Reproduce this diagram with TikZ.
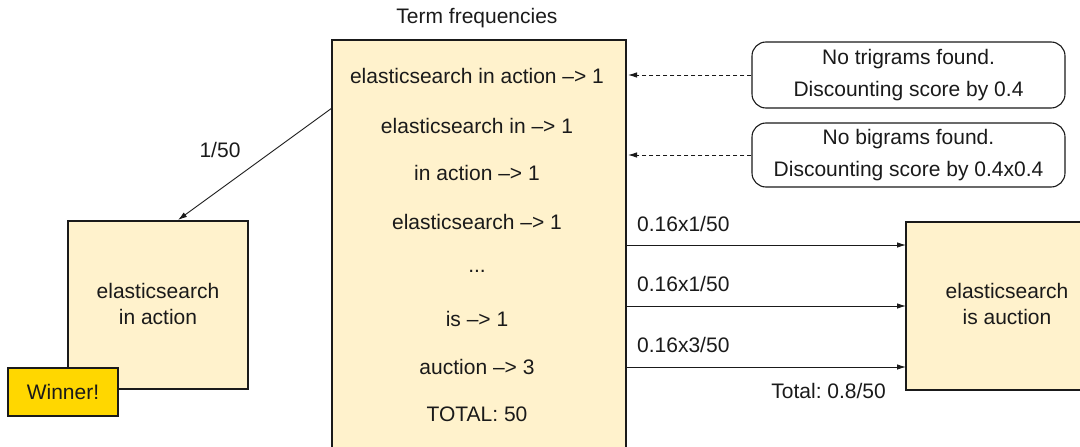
\documentclass[tikz,border=0pt]{standalone}
\usepackage{fontspec}
\setmainfont{Liberation Sans}
\usetikzlibrary{arrows.meta,calc}
\definecolor{cream}{HTML}{FFF2CC}
\definecolor{gold}{HTML}{FFD700}
\definecolor{ink}{HTML}{1A1A1A}
\frenchspacing
\tikzset{
  box/.style={draw=ink, line width=1.2pt, fill=cream},
  note/.style={draw=ink, line width=1.1pt, rounded corners=14pt, fill=white},
  txt/.style={font=\fontsize{21}{26}\selectfont, text=ink, align=center, inner sep=0pt},
  ntxt/.style={font=\fontsize{21}{32}\selectfont, text=ink, align=center, inner sep=0pt},
  arr/.style={-{Latex[length=9pt,width=5.5pt]}, line width=0.9pt, draw=ink},
  darr/.style={arr, dashed, dash pattern=on 4pt off 3pt}
}
\begin{document}
\begin{tikzpicture}[x=1pt,y=-1pt]
\useasboundingbox (0,0) rectangle (1080,447);
\clip (0,0) rectangle (1080,447);
% central box
\path[box] (332,40) rectangle (626,470);
\node[txt] (title) at (477,18) {Term frequencies};
\node[txt] (t1) at (477,76) {elasticsearch in action –> 1};
\node[txt] (t2) at (477,126) {elasticsearch in –> 1};
\node[txt] (t3) at (477,173) {in action –> 1};
\node[txt] (t4) at (477,222) {elasticsearch –> 1};
\node[txt] (t5) at (477,271) {...};
\node[txt] (t6) at (477,319) {is –> 1};
\node[txt] (t7) at (477,367) {auction –> 3};
\node[txt] (t8) at (477,414) {TOTAL: 50};
% left box
\node[box, minimum width=180pt, minimum height=168pt, inner sep=0pt] (lb) at (158,305) {};
\node[txt] (lbt) at (158,304) {elasticsearch\\in action};
\node[draw=ink, line width=1.2pt, fill=gold, minimum width=110pt, minimum height=48pt, inner sep=0pt, txt] (win) at (63,392) {Winner!};
% right box
\path[box] (906,222) rectangle (1100,390);
\node[txt] (rbt) at (1007,304) {elasticsearch\\is auction};
% notes
\node[note, minimum width=313pt, minimum height=66pt, inner sep=0pt] (n1) at (908.5,75) {};
\node[ntxt] at (n1) {No trigrams found.\\Discounting score by 0.4};
\node[note, minimum width=313pt, minimum height=64pt, inner sep=0pt] (n2) at (908.5,155) {};
\node[ntxt] at (n2) {No bigrams found.\\Discounting score by 0.4x0.4};
% dashed arrows
\coordinate (d1) at (628,75);
\coordinate (d2) at (628,155);
\draw[darr] (n1.west) -- (d1);
\draw[darr] (n2.west) -- (d2);
% solid arrows
\coordinate (a1s) at (626,245);
\coordinate (a1e) at (906,245);
\coordinate (a2s) at (626,306);
\coordinate (a2e) at (906,306);
\coordinate (a3s) at (626,367);
\coordinate (a3e) at (906,367);
\draw[arr] (a1s) -- (a1e);
\draw[arr] (a2s) -- (a2e);
\draw[arr] (a3s) -- (a3e);
\node[txt, anchor=west] (l1) at (637,224) {0.16x1/50};
\node[txt, anchor=west] (l2) at (637,284) {0.16x1/50};
\node[txt, anchor=west] (l3) at (637,345) {0.16x3/50};
\node[txt, anchor=east] (tot) at (886,391) {Total: 0.8/50};
% diagonal arrow
\coordinate (ds) at (332,108);
\coordinate (de) at (178,220);
\draw[arr] (ds) -- (de);
\node[txt] (l0) at (220,150) {1/50};
\end{tikzpicture}
\end{document}
